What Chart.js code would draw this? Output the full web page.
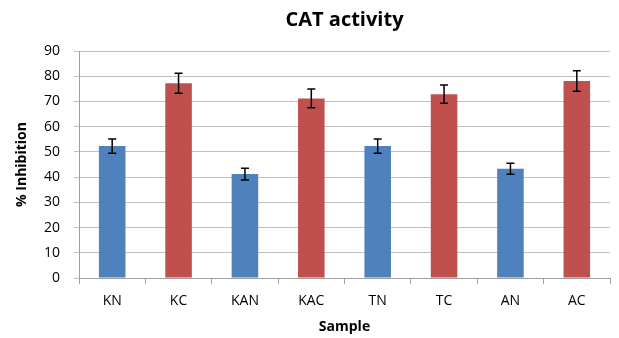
<!DOCTYPE html>
<html>
<head>
<meta charset="utf-8">
<script src="https://cdn.jsdelivr.net/npm/chart.js@4"></script>
<style>
  html, body { margin: 0; padding: 0; background: #fff; }
  #wrap { width: 619px; height: 338px; }
</style>
</head>
<body>
<div id="wrap"><canvas id="catChart" width="619" height="338"></canvas></div>
<script>
const samples = ['KN', 'KC', 'KAN', 'KAC', 'TN', 'TC', 'AN', 'AC'];
const inhibition = [52.3, 77.2, 41.2, 71.2, 52.3, 72.9, 43.3, 78.1];
const errors = [2.8, 4.0, 2.3, 3.7, 2.8, 3.6, 2.2, 4.1];
const barColors = ['#4f81bd', '#c0504d', '#4f81bd', '#c0504d', '#4f81bd', '#c0504d', '#4f81bd', '#c0504d'];

const font = "'Open Sans', 'Liberation Sans', sans-serif";

// error bars drawn from the data through the y scale
const errorBars = {
  id: 'errorBars',
  afterDatasetsDraw(chart) {
    const ctx = chart.ctx;
    const yScale = chart.scales.y;
    const meta = chart.getDatasetMeta(0);
    ctx.save();
    ctx.strokeStyle = '#000';
    ctx.lineWidth = 1.5;
    meta.data.forEach((bar, i) => {
      const x = bar.x;
      const top = yScale.getPixelForValue(inhibition[i] + errors[i]);
      const bot = yScale.getPixelForValue(inhibition[i] - errors[i]);
      ctx.beginPath();
      ctx.moveTo(x, top); ctx.lineTo(x, bot);
      ctx.moveTo(x - 4, top); ctx.lineTo(x + 4, top);
      ctx.moveTo(x - 4, bot); ctx.lineTo(x + 4, bot);
      ctx.stroke();
    });
    ctx.restore();
  }
};

// title and x-axis title centred over the plot area, as in the source
const titles = {
  id: 'titles',
  afterDraw(chart) {
    const ctx = chart.ctx;
    const cx = (chart.chartArea.left + chart.chartArea.right) / 2;
    ctx.save();
    ctx.fillStyle = '#000';
    ctx.textAlign = 'center';
    ctx.textBaseline = 'middle';
    ctx.font = "bold 20px " + font;
    ctx.fillText('CAT activity', cx, 20);
    ctx.font = "bold 14px " + font;
    ctx.fillText('Sample', cx, 327);
    ctx.restore();
  }
};

new Chart(document.getElementById('catChart').getContext('2d'), {
  type: 'bar',
  data: {
    labels: samples,
    datasets: [{
      label: '% Inhibition',
      data: inhibition,
      backgroundColor: barColors,
      borderWidth: 0,
      categoryPercentage: 1.0,
      barPercentage: 0.4
    }]
  },
  options: {
    responsive: false,
    animation: false,
    layout: { padding: { top: 51, right: 9, bottom: 20, left: 14 } },
    plugins: {
      legend: { display: false },
      title: { display: false },
      tooltip: { enabled: false }
    },
    scales: {
      x: {
        offset: true,
        afterFit(scale) { scale.height = 40; },
        grid: {
          display: true,
          offset: true,
          drawOnChartArea: false,
          tickLength: 6,
          color: '#a0a0a0'
        },
        border: { color: '#a0a0a0' },
        ticks: { color: '#000', font: { family: font, size: 14 }, padding: 9 }
      },
      y: {
        min: 0,
        max: 90,
        afterFit(scale) { scale.width = 65; },
        ticks: { stepSize: 10, color: '#000', font: { family: font, size: 14 }, padding: 14 },
        grid: { color: '#c0c0c0', tickLength: 5, lineWidth: 1 },
        border: { color: '#a0a0a0' },
        title: {
          display: true,
          text: '% Inhibition',
          color: '#000',
          font: { family: font, size: 14, weight: 'bold' },
          padding: { top: 0, bottom: 4 }
        }
      }
    }
  },
  plugins: [errorBars, titles]
});
</script>
</body>
</html>
